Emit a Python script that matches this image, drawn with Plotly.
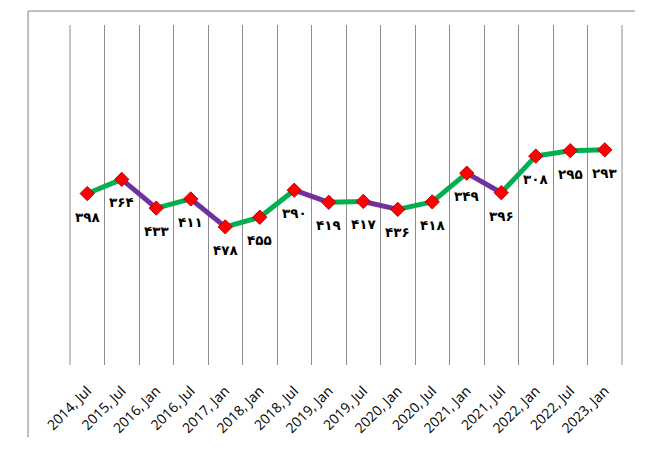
import plotly.graph_objects as go

categories = ["2014, Jul", "2015, Jul", "2016, Jan", "2016, Jul", "2017, Jan", "2018, Jan",
              "2018, Jul", "2019, Jan", "2019, Jul", "2020, Jan", "2020, Jul", "2021, Jan",
              "2021, Jul", "2022, Jan", "2022, Jul", "2023, Jan"]
ranks = [398, 364, 433, 411, 478, 455, 390, 419, 417, 436, 418, 349, 396, 308, 295, 293]

GREEN = "#00B050"
PURPLE = "#7030A0"
GRID = "#8C8C8C"
PERSIAN = str.maketrans("0123456789", "۰۱۲۳۴۵۶۷۸۹")

fig = go.Figure()

# coloured segments: green where rank improves (value falls), purple where it worsens
for i in range(len(ranks) - 1):
    color = GREEN if ranks[i + 1] < ranks[i] else PURPLE
    fig.add_trace(go.Scatter(
        x=[categories[i], categories[i + 1]], y=[ranks[i], ranks[i + 1]],
        mode="lines", line=dict(color=color, width=5), hoverinfo="skip", showlegend=False))

fig.add_trace(go.Scatter(
    x=categories, y=ranks, mode="markers",
    marker=dict(symbol="diamond", size=11, color="#FF0000", line=dict(color="#C00000", width=1)),
    showlegend=False))

for c, v in zip(categories, ranks):
    fig.add_annotation(x=c, y=v, text="<b>" + str(v).translate(PERSIAN) + "</b>", showarrow=False,
                       yshift=-23, font=dict(family="DejaVu Sans", size=13.5, color="black"))

# outer gridlines at the plot-area edges
for px in (0, 1):
    fig.add_shape(type="line", xref="paper", yref="paper", x0=px, x1=px, y0=0, y1=1,
                  line=dict(color=GRID, width=1), layer="below")

# chart frame (top and left edges)
fig.add_shape(type="line", xref="paper", yref="paper", x0=-0.076, x1=1.0236, y0=1.041, y1=1.041,
              line=dict(color="#808080", width=1))
fig.add_shape(type="line", xref="paper", yref="paper", x0=-0.076, x1=-0.076, y0=-0.212, y1=1.041,
              line=dict(color="#808080", width=1))

fig.update_layout(
    width=639, height=446,
    margin=dict(l=62, r=25, t=17, b=89, autoexpand=False),
    paper_bgcolor="white", plot_bgcolor="white",
    xaxis=dict(type="category", tickson="boundaries", showgrid=True, gridcolor=GRID,
               gridwidth=1, tickangle=-45, showline=False, zeroline=False, ticks="",
               automargin=False, ticklabelstandoff=14, range=[-0.5, len(categories) - 0.5],
               tickfont=dict(family="Open Sans", size=14, color="black")),
    yaxis=dict(range=[810, -7], showgrid=False, showticklabels=False, zeroline=False,
               showline=False, automargin=False),
)

fig.write_html("out.html")
